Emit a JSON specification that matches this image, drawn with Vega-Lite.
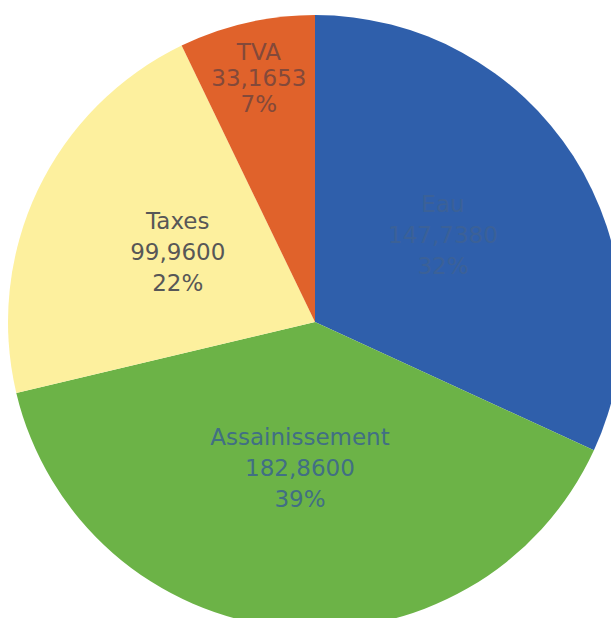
{
  "$schema": "https://vega.github.io/schema/vega-lite/v6.json",
  "width": 630,
  "height": 644,
  "padding": 0,
  "autosize": {"type": "none"},
  "background": "white",
  "config": {"view": {"stroke": null}},
  "data": {
    "values": [
      {"rang": 1, "Poste": "Eau", "Valeur": 147.738},
      {"rang": 2, "Poste": "Assainissement", "Valeur": 182.86},
      {"rang": 3, "Poste": "Taxes", "Valeur": 99.96},
      {"rang": 4, "Poste": "TVA", "Valeur": 33.1653}
    ]
  },
  "transform": [
    {"joinaggregate": [{"op": "sum", "field": "Valeur", "as": "total"}]},
    {"calculate": "datum.Poste + '\\n' + replace(format(datum.Valeur, '.4f'), '.', ',') + '\\n' + round(datum.Valeur / datum.total * 100) + '%'", "as": "label"}
  ],
  "encoding": {
    "theta": {"field": "Valeur", "type": "quantitative", "stack": true},
    "order": {"field": "rang", "type": "quantitative"}
  },
  "layer": [
    {
      "mark": {"type": "arc", "outerRadius": 307},
      "encoding": {
        "color": {
          "field": "Poste",
          "type": "nominal",
          "legend": null,
          "scale": {
            "domain": ["Eau", "Assainissement", "Taxes", "TVA"],
            "range": ["#2f5fab", "#6cb347", "#fdf09e", "#e0622b"]
          }
        }
      }
    },
    {
      "layer": [
        {
          "mark": {"type": "text", "radius": 152, "dy": -35, "font": "DejaVu Sans", "fontSize": 23, "lineHeight": 31, "lineBreak": "\n", "align": "center", "baseline": "middle"},
          "encoding": {
            "text": {"condition": {"test": "datum.Poste === 'TVA'", "value": ""}, "field": "label", "type": "nominal"},
            "color": {
              "field": "Poste",
              "type": "nominal",
              "legend": null,
              "scale": {
                "domain": ["Eau", "Assainissement", "Taxes", "TVA"],
                "range": ["#3b6198", "#416f84", "#575757", "#83493a"]
              }
            }
          }
        },
        {
          "mark": {"type": "text", "radius": 252, "dy": -23, "font": "DejaVu Sans", "fontSize": 23, "lineHeight": 26, "lineBreak": "\n", "align": "center", "baseline": "middle"},
          "encoding": {
            "text": {"condition": {"test": "datum.Poste !== 'TVA'", "value": ""}, "field": "label", "type": "nominal"},
            "color": {
              "field": "Poste",
              "type": "nominal",
              "legend": null,
              "scale": {
                "domain": ["Eau", "Assainissement", "Taxes", "TVA"],
                "range": ["#3b6198", "#416f84", "#575757", "#83493a"]
              }
            }
          }
        }
      ]
    }
  ],
  "resolve": {"scale": {"color": "independent"}}
}
